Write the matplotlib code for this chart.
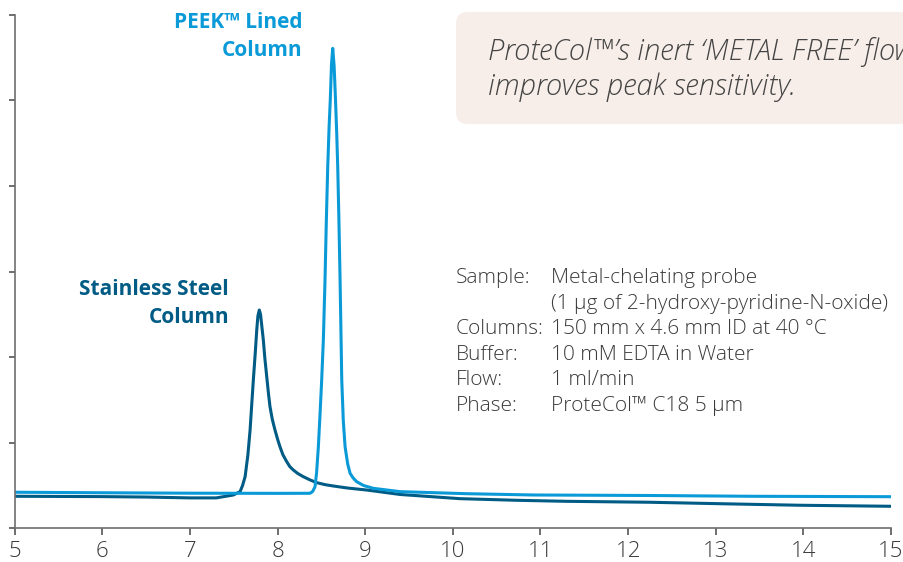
import matplotlib
matplotlib.use("Agg")
import matplotlib.pyplot as plt
from matplotlib.patches import FancyBboxPatch
from matplotlib.transforms import IdentityTransform

# retention time (min) / detector response
steel_t = [5.0, 5.5, 6.0, 6.5, 7.0, 7.3, 7.495, 7.572, 7.60, 7.629, 7.66, 7.686, 7.705,
           7.723, 7.745, 7.762, 7.775, 7.791, 7.805, 7.82, 7.837, 7.855, 7.876, 7.895,
           7.913, 7.94, 7.970, 8.0, 8.027, 8.06, 8.104, 8.14, 8.179, 8.23, 8.293, 8.37,
           8.446, 8.54, 8.636, 8.8, 9.017, 9.397, 10.081, 10.729, 11.30, 12.249, 13.20,
           13.96, 15.0]
steel_v = [0.374, 0.372, 0.370, 0.365, 0.355, 0.355, 0.389, 0.428, 0.50, 0.603, 0.85, 1.148, 1.45,
           1.733, 2.05, 2.317, 2.48, 2.550, 2.50, 2.36, 2.200, 1.98, 1.771, 1.58,
           1.421, 1.27, 1.148, 1.04, 0.953, 0.86, 0.778, 0.72, 0.681, 0.64, 0.603, 0.565,
           0.533, 0.51, 0.494, 0.47, 0.447, 0.395, 0.346, 0.327, 0.315, 0.304, 0.284,
           0.269, 0.257]

peek_t = [5.0, 6.0, 7.0, 8.0, 8.370, 8.40, 8.427, 8.445, 8.465, 8.485, 8.503, 8.522, 8.541,
          8.555, 8.572, 8.588, 8.601, 8.615, 8.629, 8.645, 8.661, 8.675, 8.686, 8.70,
          8.713, 8.732, 8.75, 8.770, 8.80, 8.827, 8.86, 8.903, 8.98, 9.092, 9.397,
          10.158, 10.918, 12.249, 13.39, 15.0]
peek_v = [0.421, 0.415, 0.410, 0.408, 0.409, 0.43, 0.486, 0.65, 0.953, 1.35, 1.733, 2.200, 2.900,
          3.55, 4.224, 4.70, 5.000, 5.42, 5.607, 5.40, 5.000, 4.60, 4.224, 3.58,
          2.900, 1.733, 1.25, 0.953, 0.75, 0.643, 0.59, 0.544, 0.50, 0.467, 0.428,
          0.404, 0.389, 0.383, 0.374, 0.369]

x_ticks = list(range(5, 16))
y_ticks = list(range(0, 7))

info_keys = ["Sample:", "", "Columns:", "Buffer:", "Flow:", "Phase:"]
info_vals = ["Metal-chelating probe", "(1 µg of 2-hydroxy-pyridine-N-oxide)",
             "150 mm x 4.6 mm ID at 40 °C", "10 mM EDTA in Water", "1 ml/min",
             "ProteCol™ C18 5 µm"]

steel_col = "#005b85"
peek_col = "#0a9ad8"
text_col = "#3a3a3a"

plt.rcParams['font.family'] = ['Open Sans', 'DejaVu Sans']

fig = plt.figure(figsize=(9.04, 5.62), dpi=100)
ax = fig.add_axes([0.0163, 0.0600, 0.9693, 0.9138])

ax.plot(steel_t, steel_v, color=steel_col, lw=2.2, solid_joinstyle='round')
ax.plot(peek_t, peek_v, color=peek_col, lw=2.2, solid_joinstyle='round')

ax.set_xlim(5, 15)
ax.set_ylim(0, 6)
ax.set_xticks(x_ticks)
ax.set_yticks(y_ticks)
ax.set_yticklabels([])
for s in ['top', 'right']:
    ax.spines[s].set_visible(False)
for s in ['left', 'bottom']:
    ax.spines[s].set_color('#6e6e6e')
    ax.spines[s].set_linewidth(1.2)
ax.tick_params(axis='x', length=5, width=1.2, color='#555555', labelsize=16,
               labelcolor=text_col, pad=4)
ax.tick_params(axis='y', length=4, width=1.2, color='#555555')
for lab in ax.get_xticklabels():
    lab.set_fontweight('light')

# peak labels
fig.text(302 / 904, 1 - 12 / 562, "PEEK™ Lined\nColumn",
         ha='right', va='top', color=peek_col, fontsize=15, fontweight='bold',
         linespacing=1.42)
fig.text(229 / 904, 1 - 279 / 562, "Stainless Steel\nColumn",
         ha='right', va='top', color=steel_col, fontsize=15, fontweight='bold',
         linespacing=1.42)

# callout box (pixel coordinates)
box = FancyBboxPatch((456, 562 - 124), 480, 112,
                     boxstyle="round,pad=0,rounding_size=12",
                     transform=IdentityTransform(), facecolor='#f7eee9',
                     edgecolor='none', zorder=0)
fig.patches.append(box)
fig.text(488 / 904, 1 - 52 / 562, "ProteCol™’s inert ‘METAL FREE’ flow path",
         ha='left', va='center', fontsize=21, style='italic', color='#444444',
         fontweight='light')
fig.text(488 / 904, 1 - 87 / 562, "improves peak sensitivity.",
         ha='left', va='center', fontsize=21, style='italic', color='#444444',
         fontweight='light')

# method details
for i, (k, v) in enumerate(zip(info_keys, info_vals)):
    y = 1 - (278 + i * 25.6) / 562
    fig.text(456 / 904, y, k, ha='left', va='center', fontsize=15,
             color=text_col, fontweight='light')
    fig.text(551 / 904, y, v, ha='left', va='center', fontsize=15,
             color=text_col, fontweight='light')

fig.savefig("out.png", dpi=100)
